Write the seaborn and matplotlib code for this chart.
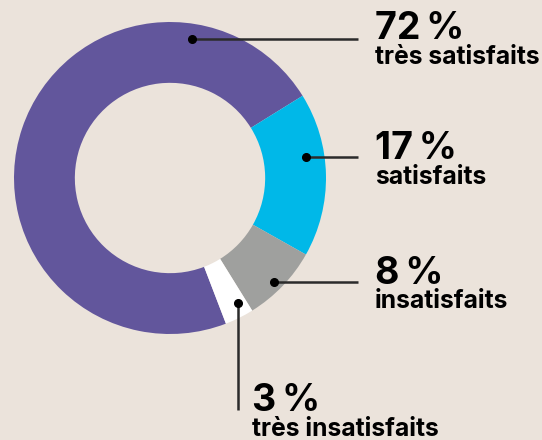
import matplotlib
matplotlib.use('agg')
import matplotlib.pyplot as plt
import seaborn as sns
import numpy as np

# data
categories = ['très satisfaits', 'satisfaits', 'insatisfaits', 'très insatisfaits']
shares = [72, 17, 8, 3]
colors = ['#62569c', '#00b8e8', '#9fa09e', '#ffffff']
bg = '#ebe3db'

# where each leader line starts on the ring (degrees clockwise from top, radius)
anchor_angle = [9, 81, 135, 151.5]
anchor_radius = [0.9, 0.88, 0.94, 0.91]

sns.set_theme(style='white', rc={'figure.facecolor': bg, 'axes.facecolor': bg})
plt.rcParams['font.family'] = ['Inter', 'DejaVu Sans']

W, H = 542, 440
cx, cy, R = 170, 178, 156

fig = plt.figure(figsize=(W / 100, H / 100), dpi=100)
ax = fig.add_axes([(cx - R) / W, (H - cy - R) / H, 2 * R / W, 2 * R / H])

ax.pie(shares, colors=colors, startangle=-69, counterclock=False, radius=1,
       wedgeprops={'width': 0.39, 'linewidth': 0})
ax.set_xlim(-1, 1)
ax.set_ylim(-1, 1)
ax.set_aspect('equal')
ax.axis('off')


def to_data(px, py):
    return (px - cx) / R, (cy - py) / R


def polar(deg, r):
    a = np.deg2rad(90 - deg)
    return r * np.cos(a), r * np.sin(a)


line_col = '#2b2b2b'
# leader lines: end points in pixels (horizontal ones end at x=358, the last goes down)
ends = [(358, None), (358, None), (358, None), (None, 410)]
for ang, r, end in zip(anchor_angle, anchor_radius, ends):
    x0, y0 = polar(ang, r)
    if end[0] is not None:
        x1, y1 = to_data(end[0], 0)[0], y0
    else:
        x1, y1 = x0, to_data(0, end[1])[1]
    ax.plot([x0, x1], [y0, y1], color=line_col, lw=1.8, clip_on=False,
            solid_capstyle='butt', zorder=3)
    ax.plot([x0], [y0], 'o', color='black', ms=5.5, clip_on=False, zorder=4)

# label positions (pixels: left x, baseline y of the percentage)
label_pos = [(375, 39), (375, 159), (375, 284), (252, 411)]
for share, cat, (lx, ly) in zip(shares, categories, label_pos):
    x, y = to_data(lx, ly)
    ax.text(x, y, f'{share}\u202f%', fontsize=27, fontweight='bold',
            color='black', ha='left', va='baseline', clip_on=False)
    x2, y2 = to_data(lx, ly + 24.5)
    ax.text(x2, y2, cat, fontsize=17.8, fontweight='bold',
            color='black', ha='left', va='baseline', clip_on=False)

fig.savefig('out.png', dpi=100, facecolor=bg)
